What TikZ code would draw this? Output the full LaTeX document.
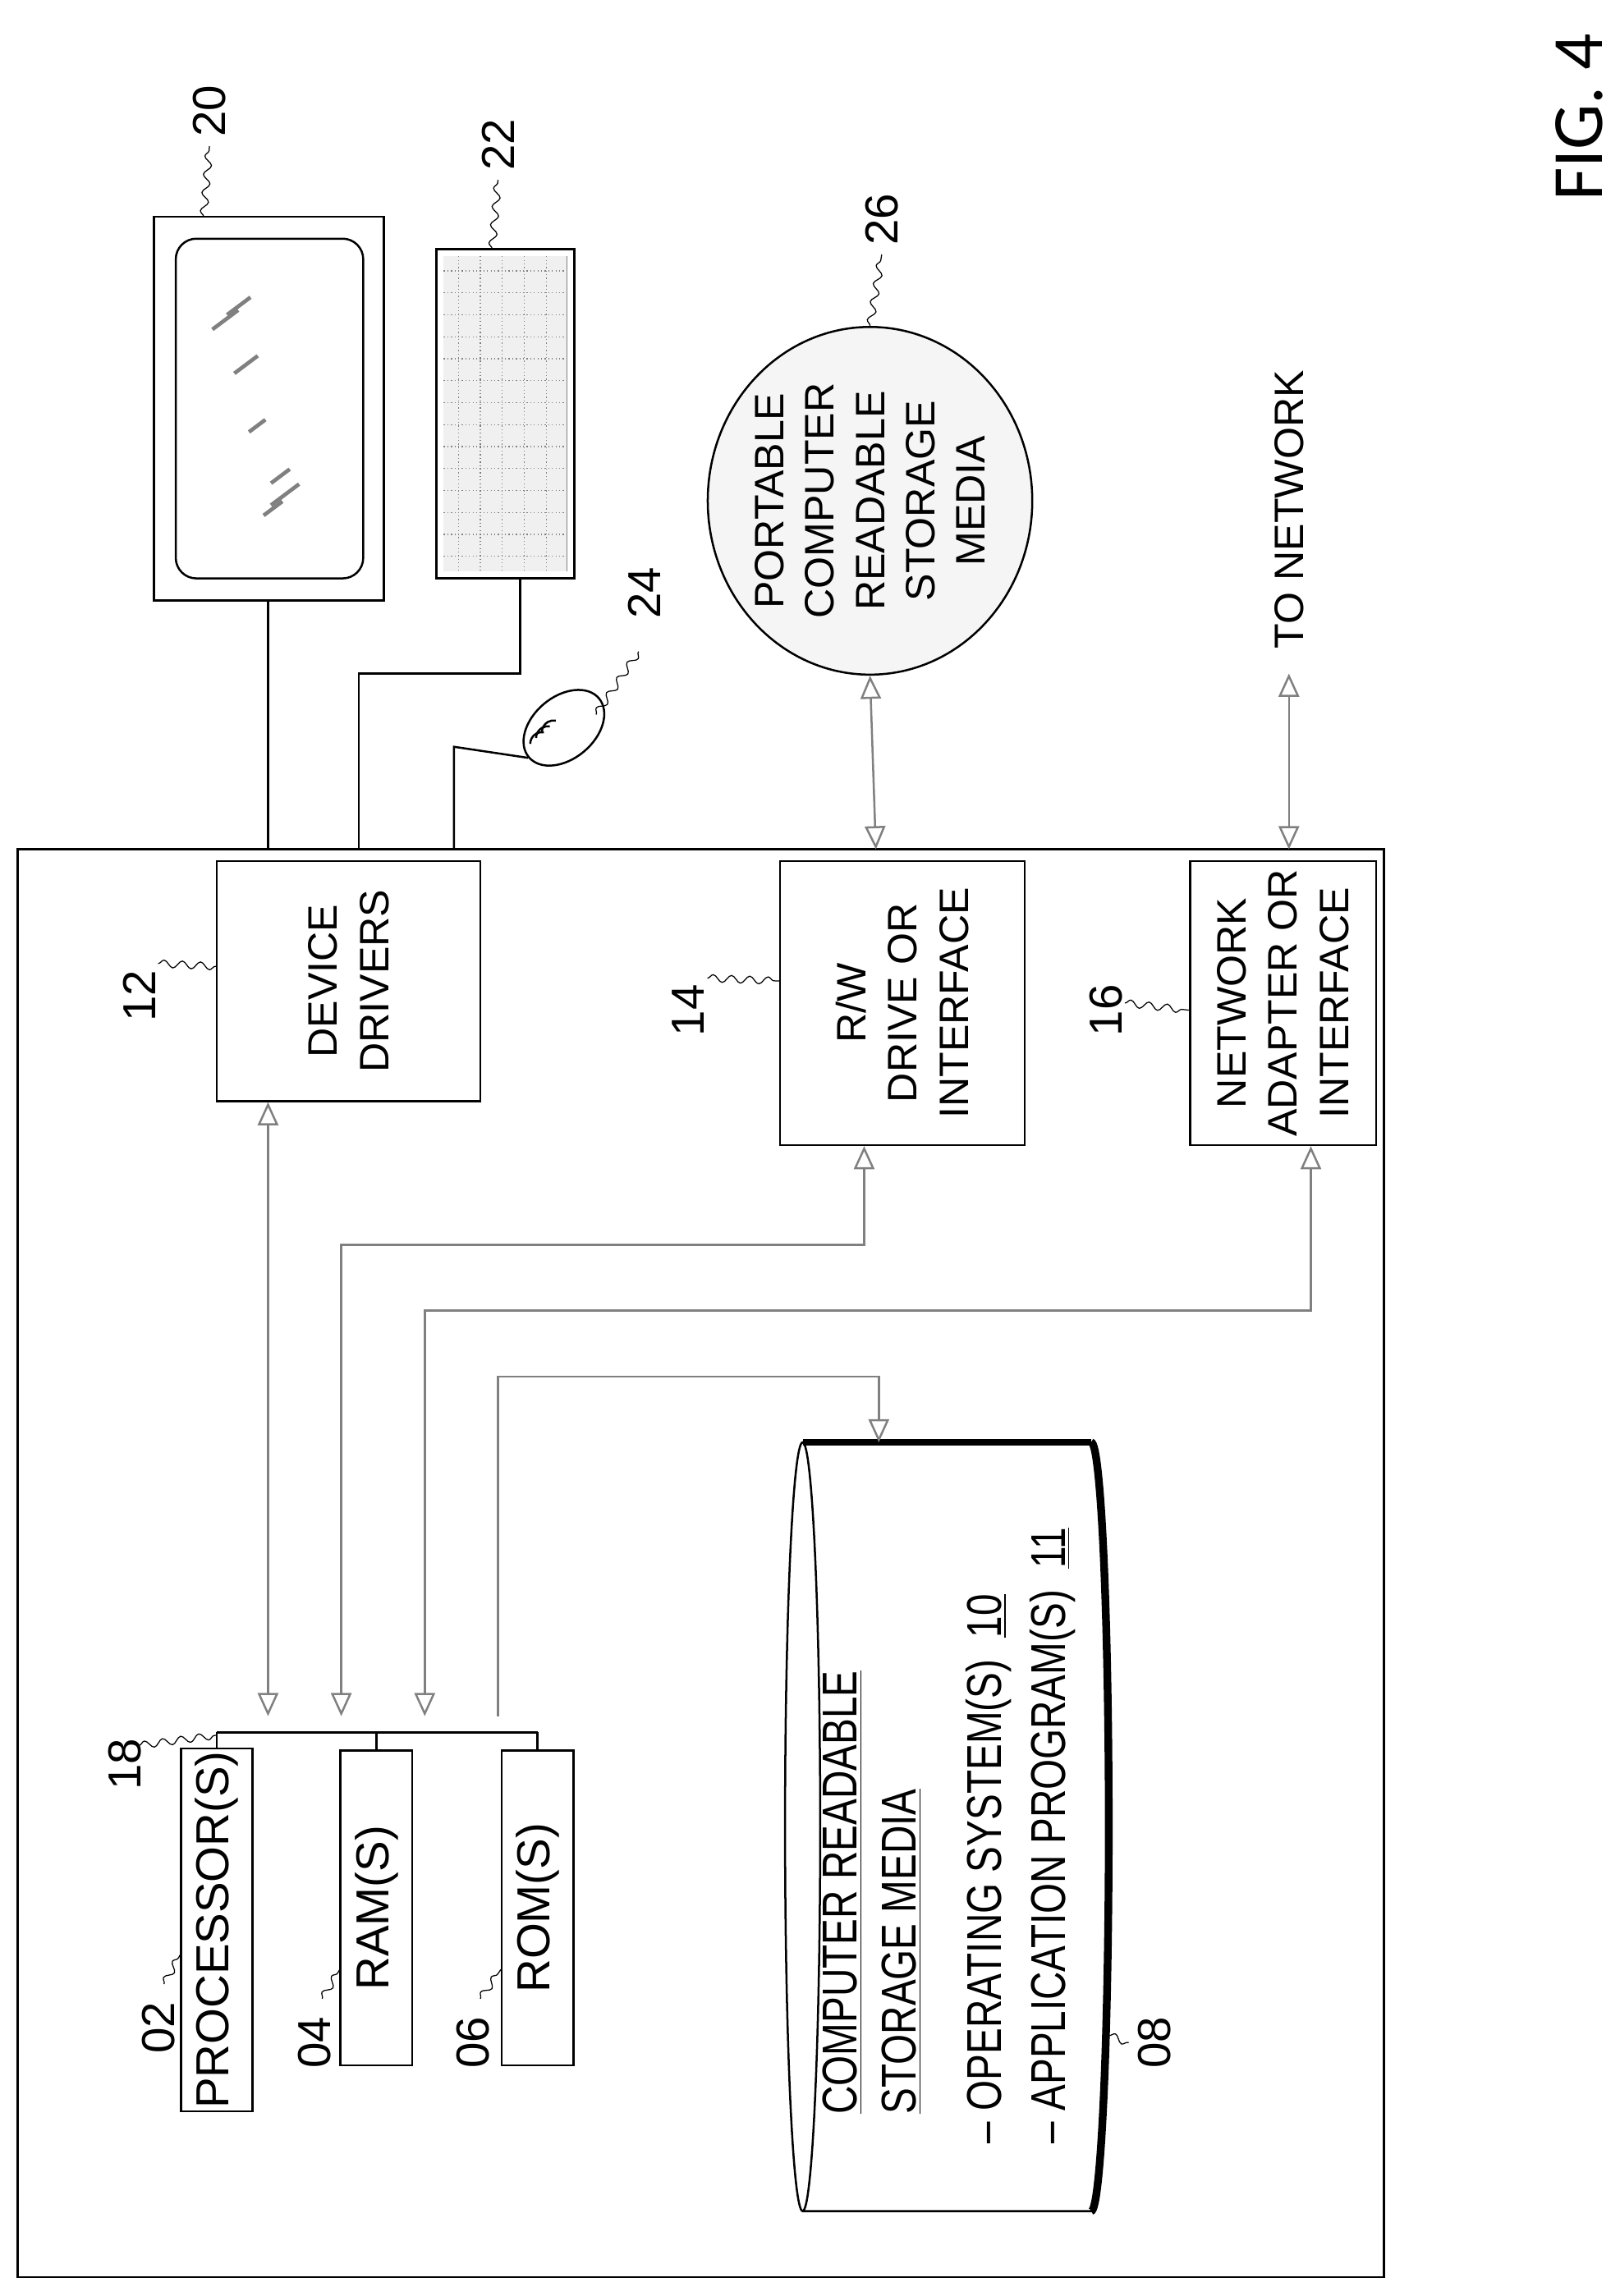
\documentclass[tikz,border=0pt]{standalone}
\usepackage{fontspec}
\setmainfont{Liberation Sans}
\newfontfamily\figfont{Carlito}
\newfontfamily\narrowfont{Liberation Sans}[FakeStretch=0.8]
\usetikzlibrary{arrows.meta,positioning,shapes.geometric,decorations.pathmorphing}
\tikzset{box/.style={draw,thick,rotate=90,align=center,inner sep=1pt,font=\fontsize{16}{20}\selectfont},
    lbl/.style={rotate=90,font=\fontsize{18}{22}\selectfont},
    wire/.style={thick},
    dbl/.style={gray,{Triangle[open,length=9pt,width=8pt]}-{Triangle[open,length=9pt,width=8pt]},thick},
    sgl/.style={gray,-{Triangle[open,length=9pt,width=8pt]},thick},
    squig/.style={decorate,decoration={snake,amplitude=.5mm,segment length=2.5mm}}}
\begin{document}
\begin{tikzpicture}[x=0.02cm,y=-0.02cm]
\useasboundingbox (0,0) rectangle (1106,1568);
\draw[thick] (12,580) rectangle (945,1555);
\node[rotate=90,font=\figfont\fontsize{28}{34}\selectfont] (fig) at (1078,80) {FIG. 4};
% monitor and keyboard
\draw[thick] (105,148) rectangle (262,410);
\draw[thick,rounded corners=8pt] (120,163) rectangle (248,395);
\foreach \a/\b/\l in {145/225/22,155/215/20,160/255/20,170/295/14,185/330/16,185/345/24,180/352/16}
  \draw[gray,line width=1.5pt] (\a,\b) -- ++(\l*0.8,-\l*0.6);
\draw[thick] (298,170) rectangle (392,395);
\draw[gray] (303,175) rectangle (387,390);
\fill[gray!12] (303,175) rectangle (387,390);
\foreach \x in {313,328,...,385} \draw[gray,densely dotted] (\x,175) -- (\x,390);
\foreach \y in {185,200,...,390} \draw[gray,densely dotted] (303,\y) -- (387,\y);
\coordinate (mon) at (183,410);
\coordinate (kbd) at (355,395);
\node[draw,thick,ellipse,minimum width=1.25cm,minimum height=0.85cm,rotate=40] (mouse) at (385,497) {};
\foreach \d in {0,4,8}
  \draw[thick] (362+\d,508-\d) arc[radius=8,start angle=180,end angle=280];
\node[lbl] (n20) at (143,76) {20};
\node[lbl] (n22) at (340,99) {22};
\node[lbl] (n24) at (440,405) {24};
\node[lbl] (n26) at (602,150) {26};
\draw[squig] (139,148) -- (n20.west);
\draw[squig] (336,170) -- (n22.west);
\draw[squig] (407,488) -- (436,445);
% storage and network
\node[draw,thick,ellipse,fill=gray!8,minimum width=4.75cm,minimum height=3.9cm,inner sep=0pt,rotate=90,align=center,font=\fontsize{16}{19.5}\selectfont] (port) at (594,342) {PORTABLE\\COMPUTER\\READABLE\\STORAGE\\MEDIA};
\draw[squig] (port.east) -- (n26.west);
\node[lbl,font=\fontsize{16}{20}\selectfont] (net) at (880,348) {TO NETWORK};
% boxes
\node[box,minimum width=3.28cm,minimum height=3.6cm] (dd) at (238,670) {DEVICE\\DRIVERS};
\node[box,minimum width=3.88cm,minimum height=3.34cm] (rw) at (616,685) {R/W\\DRIVE OR\\INTERFACE};
\node[box,minimum width=3.88cm,minimum height=2.54cm] (na) at (876,685) {NETWORK\\ADAPTER OR\\INTERFACE};
\node[lbl] (n12) at (95,680) {12};
\node[lbl] (n14) at (470,690) {14};
\node[lbl] (n16) at (755,690) {16};
\draw[squig] (108,658) -- (148,660);
\draw[squig] (483,668) -- (533,670);
\draw[squig] (768,685) -- (813,690);
\node[box,font=\fontsize{18}{22}\selectfont,minimum width=4.9cm,minimum height=0.98cm] (proc) at (148,1318) {PROCESSOR(S)};
\node[box,font=\fontsize{18}{22}\selectfont,minimum width=4.3cm,minimum height=0.98cm] (ram) at (257,1303) {RAM(S)};
\node[box,font=\fontsize{18}{22}\selectfont,minimum width=4.3cm,minimum height=0.98cm] (rom) at (367,1303) {ROM(S)};
\node[lbl] (n02) at (108,1385) {02};
\node[lbl] (n04) at (215,1395) {04};
\node[lbl] (n06) at (323,1395) {06};
\node[lbl] (n18) at (85,1205) {18};
\draw[squig] (112,1355) -- (123,1335);
\draw[squig] (220,1365) -- (232,1345);
\draw[squig] (328,1365) -- (342,1345);
\draw[squig] (95,1192) -- (148,1185);
% cylinder
\draw[thick,fill=white] (548,985) -- (745,985) arc[x radius=12,y radius=262.5,start angle=-90,end angle=90] -- (548,1510);
\draw[thick] (548,1247.5) ellipse[x radius=12,y radius=262.5];
\draw[line width=2.5pt] (548,985) -- (745,985);
\draw[line width=3pt] (745,985) arc[x radius=12,y radius=262.5,start angle=-90,end angle=90];
\coordinate (cyl) at (600,985);
\node[rotate=90,align=left,anchor=west,font=\narrowfont\fontsize{19}{23}\selectfont] (crsm) at (648,1470) {\hspace*{4mm}\underline{COMPUTER READABLE}\\\hspace*{4mm}\underline{STORAGE MEDIA}\\[10pt]
  \textendash\ OPERATING SYSTEM(S)\ \ \underline{10}\\[2pt] \textendash\ APPLICATION PROGRAM(S)\ \ \underline{11}};
\node[lbl] (n08) at (788,1395) {08};
\draw[squig] (757,1390) -- (n08.north);
% bus
\draw[wire] (148,1183) -- (367,1183);
\draw[wire] (148,1183) -- (proc.east);
\draw[wire] (257,1183) -- (ram.east);
\draw[wire] (367,1183) -- (rom.east);
\draw[dbl] (183,1172) -- (183,1172 |- dd.west);
\draw[dbl] (233,1172) -- (233,850) -- (590,850) -- (590,850 |- rw.west);
\draw[dbl] (290,1172) -- (290,895) -- (895,895) -- (895,895 |- na.west);
\draw[sgl] (340,1172) -- (340,940) -- (600,940) -- (cyl);
% peripherals
\draw[wire] (mon) -- (183,580);
\draw[wire] (kbd) -- (355,460) -- (245,460) -- (245,580);
\draw[wire] (310,580) -- (310,510) -- (mouse.west);
\draw[dbl] (port.west) -- (598,580);
\draw[dbl] (880,460) -- (880,580);
\end{tikzpicture}
\end{document}
